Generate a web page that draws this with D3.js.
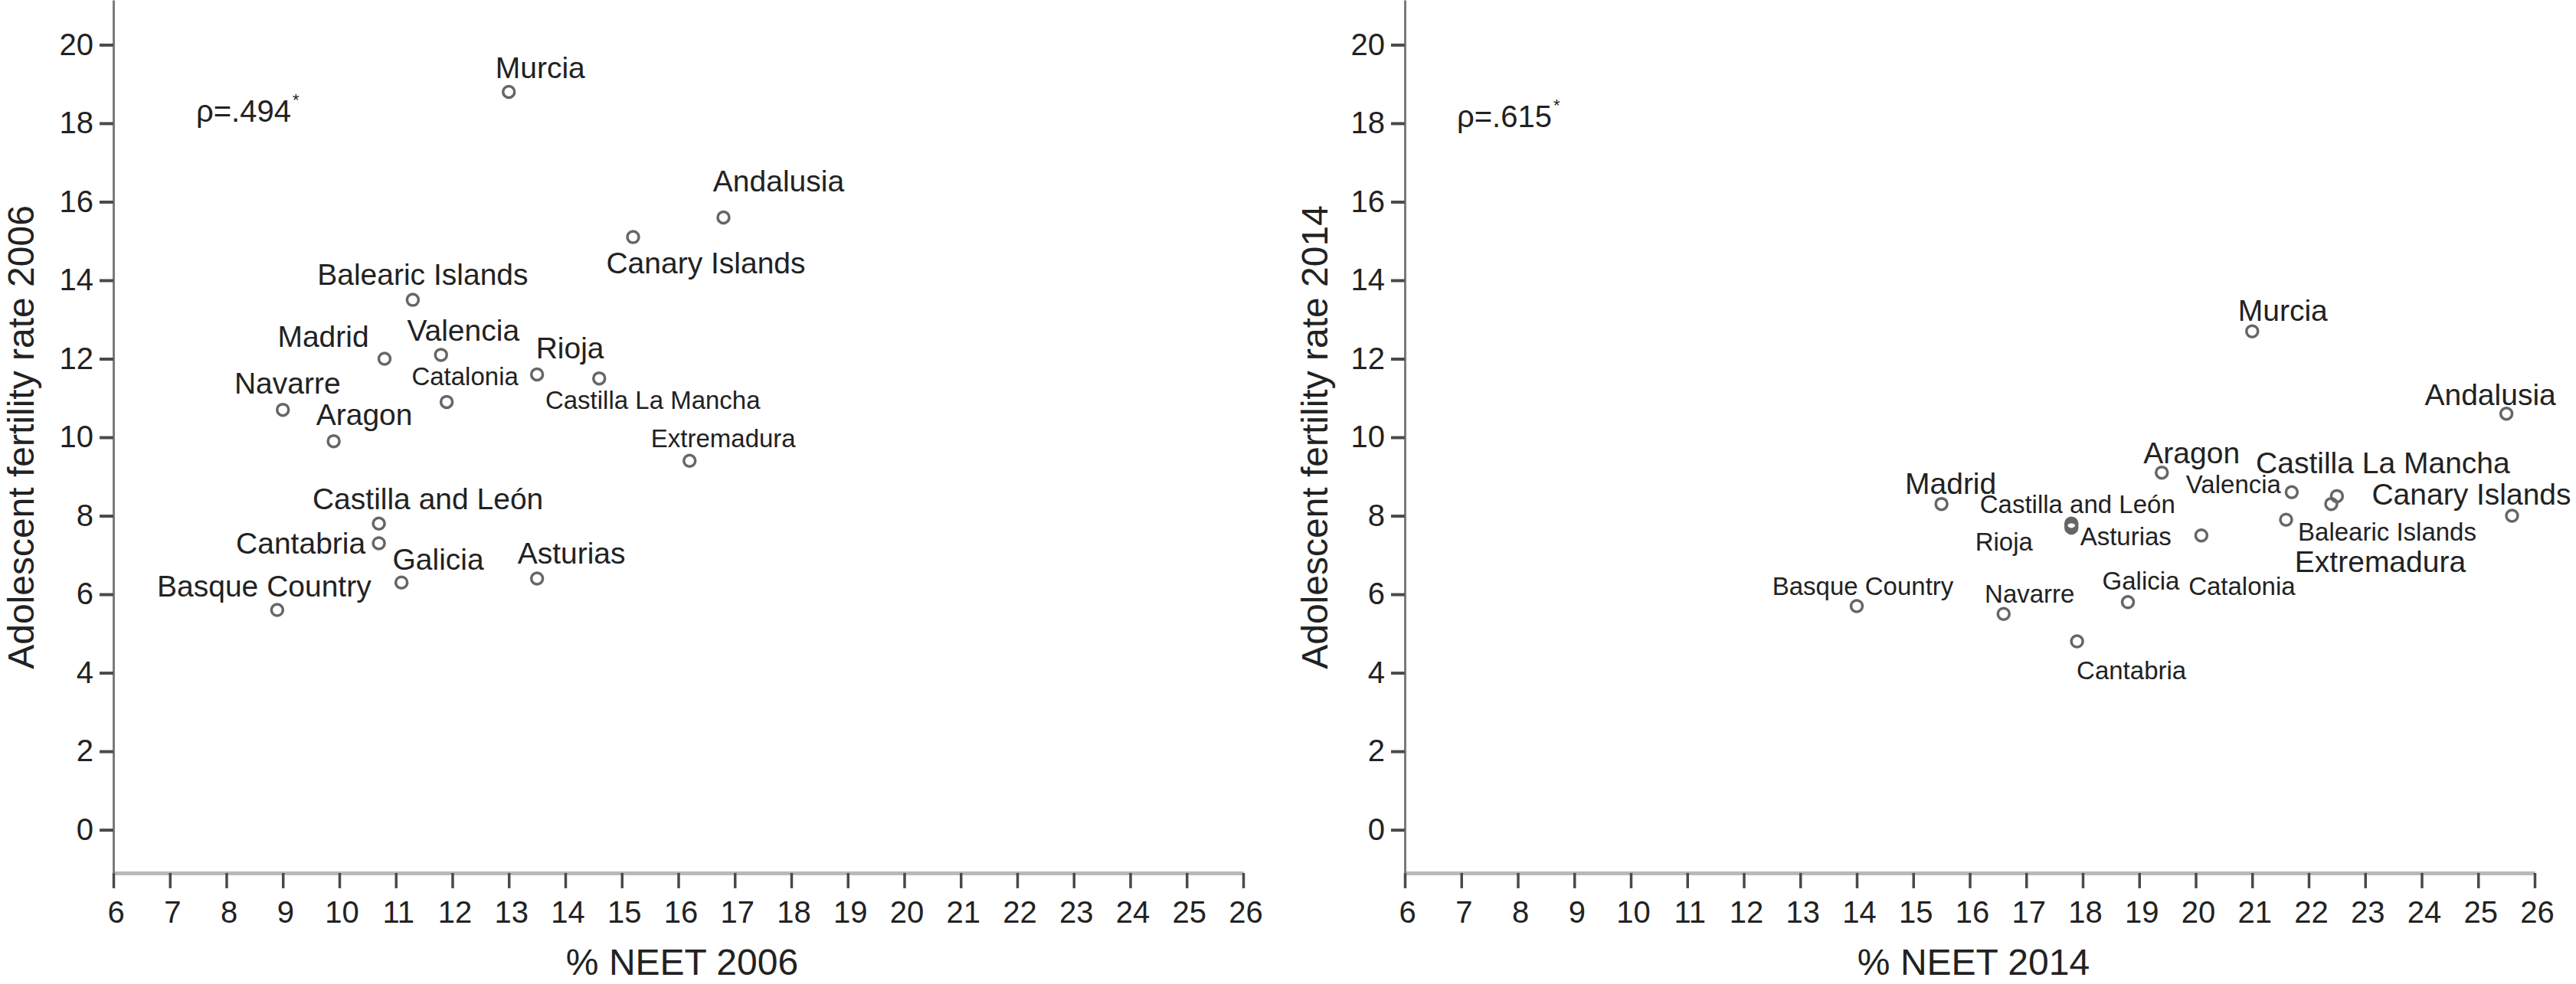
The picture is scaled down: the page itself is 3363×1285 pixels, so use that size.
<!DOCTYPE html>
<html>
<head>
<meta charset="utf-8">
<script src="https://cdn.jsdelivr.net/npm/d3@7"></script>
<style>
  html, body { margin: 0; padding: 0; background: #fff; }
  svg { display: block; }
  text { font-family: "Liberation Sans", Arial, Helvetica, sans-serif; fill: #222; }
</style>
</head>
<body>
<svg id="chart" width="3363" height="1285"></svg>
<script>
// ---------- DATA ----------
const regions = ["Andalusia", "Aragon", "Asturias", "Balearic Islands", "Basque Country",
  "Canary Islands", "Cantabria", "Castilla and León", "Castilla La Mancha", "Catalonia",
  "Extremadura", "Galicia", "Madrid", "Murcia", "Navarre", "Rioja", "Valencia"];

const neet2006 = [16.8, 9.9, 13.5, 11.3, 8.9, 15.2, 10.7, 10.7, 14.6, 11.9, 16.2, 11.1, 10.8, 13.0, 9.0, 13.5, 11.8];
const fert2006 = [15.6, 9.9, 6.4, 13.5, 5.6, 15.1, 7.3, 7.8, 11.5, 10.9, 9.4, 6.3, 12.0, 18.8, 10.7, 11.6, 12.1];

const neet2014 = [25.5, 19.4, 17.8, 21.6, 14.0, 25.6, 17.9, 17.8, 22.5, 20.1, 22.4, 18.8, 15.5, 21.0, 16.6, 17.8, 21.7];
const fert2014 = [10.6, 9.1, 7.7, 7.9, 5.7, 8.0, 4.8, 7.8, 8.5, 7.5, 8.3, 5.8, 8.3, 12.7, 5.5, 7.75, 8.6];

const xTickValues = [6, 7, 8, 9, 10, 11, 12, 13, 14, 15, 16, 17, 18, 19, 20, 21, 22, 23, 24, 25, 26];
const yTickValues = [0, 2, 4, 6, 8, 10, 12, 14, 16, 18, 20];

const rho2006 = "ρ=.494";
const rho2014 = "ρ=.615";
const xTitle2006 = "% NEET 2006";
const xTitle2014 = "% NEET 2014";
const yTitle2006 = "Adolescent fertility rate 2006";
const yTitle2014 = "Adolescent fertility rate 2014";

// ---------- LABEL LAYOUT (pixel offsets from the point, font size) ----------
const L = 39, S = 33;
const layout2006 = {
  "Murcia": [41, -18, L], "Andalusia": [72, -34, L], "Canary Islands": [95, 47, L],
  "Balearic Islands": [13, -20, L], "Madrid": [-80, -16, L], "Valencia": [29, -18, L],
  "Rioja": [43, -21, L], "Castilla La Mancha": [70, 40, S], "Catalonia": [24, -22, S],
  "Navarre": [6, -21, L], "Aragon": [40, -21, L], "Extremadura": [44, -18, S],
  "Castilla and León": [64, -19, L], "Cantabria": [-102, 14, L], "Galicia": [48, -17, L],
  "Asturias": [45, -20, L], "Basque Country": [-17, -18, L]
};
const layout2014 = {
  "Murcia": [40, -14, L], "Andalusia": [-21, -11, L], "Aragon": [39, -12, L],
  "Valencia": [-76, 1, S], "Castilla La Mancha": [60, -30, L], "Extremadura": [64, 89, L],
  "Balearic Islands": [132, 27, S], "Canary Islands": [-53, -15, L], "Madrid": [12, -13, L],
  "Castilla and León": [8, -14, S], "Rioja": [-88, 33, S], "Asturias": [71, 23, S],
  "Catalonia": [53, 78, S], "Galicia": [17, -16, S], "Basque Country": [8, -14, S],
  "Navarre": [34, -15, S], "Cantabria": [71, 49, S]
};

// ---------- DRAW ----------
const svg = d3.select("#chart");

const y = d3.scaleLinear().domain([-1.1, 21.14]).range([1140, 0]);

function panel(opts) {
  const x = d3.scaleLinear().domain([6, 26]).range([opts.x0, opts.x0 + 1475]);
  const g = svg.append("g");

  // x axis
  const gx = g.append("g")
    .attr("transform", `translate(0,${y.range()[0]})`)
    .call(d3.axisBottom(x).tickValues(xTickValues).tickFormat(d3.format("d"))
      .tickSize(20).tickSizeOuter(0).tickPadding(17));
  gx.select(".domain").attr("stroke", "#b9b9b9").attr("stroke-width", 5);
  gx.selectAll(".tick line").attr("stroke", "#4a4a4a").attr("stroke-width", 3.5);
  gx.selectAll(".tick text").attr("font-size", 40).attr("fill", "#222")
    .attr("font-family", "Liberation Sans, Arial, sans-serif").attr("dx", 3);

  // y axis
  const gy = g.append("g")
    .attr("transform", `translate(${opts.x0},0)`)
    .call(d3.axisLeft(y).tickValues(yTickValues).tickFormat(d3.format("d"))
      .tickSize(18).tickSizeOuter(0).tickPadding(8));
  gy.select(".domain").attr("stroke", "#7a7a7a").attr("stroke-width", 3);
  gy.selectAll(".tick line").attr("stroke", "#4a4a4a").attr("stroke-width", 4);
  gy.selectAll(".tick text").attr("font-size", 40).attr("fill", "#222")
    .attr("font-family", "Liberation Sans, Arial, sans-serif");

  // titles
  g.append("text")
    .attr("x", (x.range()[0] + x.range()[1]) / 2 + 5)
    .attr("y", 1273)
    .attr("text-anchor", "middle")
    .attr("font-size", 48)
    .text(opts.xTitle);

  g.append("text")
    .attr("transform", `translate(${opts.yTitleX},571) rotate(-90)`)
    .attr("text-anchor", "middle")
    .attr("font-size", 48)
    .text(opts.yTitle);

  // rho annotation
  const rt = g.append("text")
    .attr("x", opts.rhoX).attr("y", opts.rhoY)
    .attr("font-size", 40);
  rt.append("tspan").text(opts.rho);
  rt.append("tspan").attr("dy", -21).attr("dx", 2).attr("font-size", 22).text("*");

  // points
  const data = regions.map((r, i) => ({ name: r, nx: opts.xs[i], fy: opts.ys[i] }));
  g.append("g").selectAll("circle").data(data).join("circle")
    .attr("cx", d => x(d.nx))
    .attr("cy", d => y(d.fy))
    .attr("r", 7.5)
    .attr("fill", "none")
    .attr("stroke", "#666")
    .attr("stroke-width", 3.5);

  // labels
  g.append("g").selectAll("text").data(data).join("text")
    .attr("x", d => x(d.nx) + opts.layout[d.name][0])
    .attr("y", d => y(d.fy) + opts.layout[d.name][1])
    .attr("font-size", d => opts.layout[d.name][2])
    .attr("text-anchor", "middle")
    .text(d => d.name);
}

panel({ x0: 148, xs: neet2006, ys: fert2006, layout: layout2006,
  xTitle: xTitle2006, yTitle: yTitle2006, yTitleX: 44, rho: rho2006, rhoX: 256, rhoY: 159 });
panel({ x0: 1834, xs: neet2014, ys: fert2014, layout: layout2014,
  xTitle: xTitle2014, yTitle: yTitle2014, yTitleX: 1733, rho: rho2014, rhoX: 1902, rhoY: 166 });
</script>
</body>
</html>
